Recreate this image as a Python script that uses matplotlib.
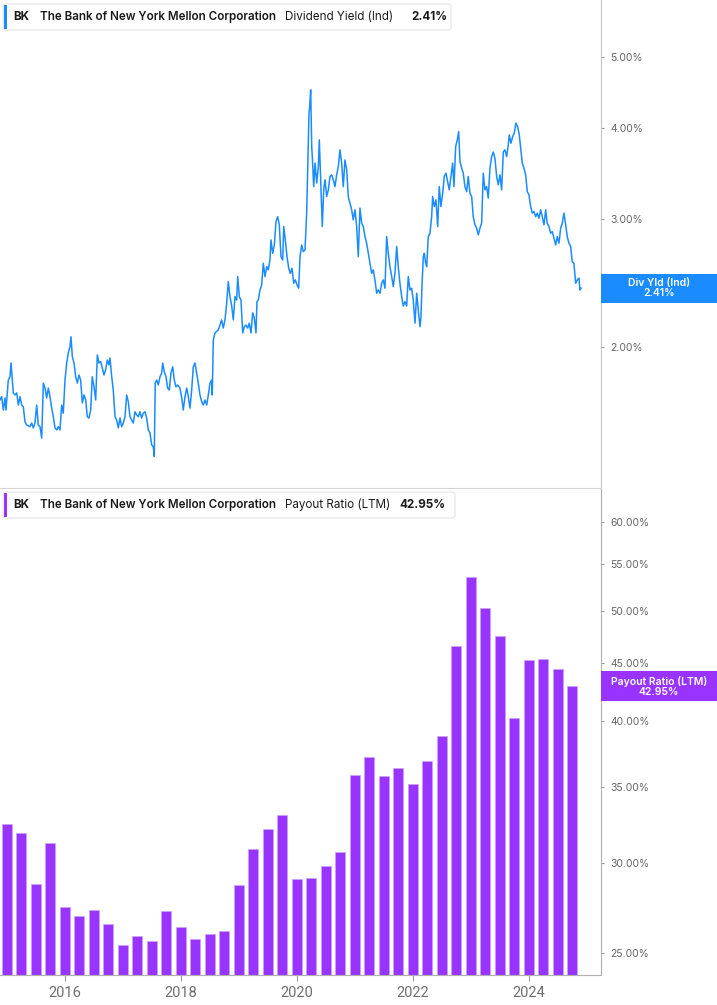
import pandas as pd
import matplotlib
matplotlib.use("Agg")
import matplotlib.pyplot as plt
from matplotlib.patches import Rectangle, FancyBboxPatch
from matplotlib.ticker import FixedLocator, FuncFormatter, NullLocator
from matplotlib.transforms import IdentityTransform

W, H = 717, 1005

# dividend yield (Ind), sampled along the daily series: decimal year, percent
yield_year = [
    2014.884, 2014.913, 2014.941, 2014.970, 2014.987, 2015.027, 2015.056, 2015.074, 2015.096, 2015.113,
    2015.143, 2015.172, 2015.200, 2015.229, 2015.258, 2015.286, 2015.315, 2015.344, 2015.401, 2015.431,
    2015.458, 2015.487, 2015.517, 2015.544, 2015.574, 2015.603, 2015.631, 2015.660, 2015.689, 2015.717,
    2015.746, 2015.775, 2015.803, 2015.832, 2015.862, 2015.889, 2015.918, 2015.948, 2015.975, 2016.005,
    2016.034, 2016.062, 2016.091, 2016.108, 2016.131, 2016.160, 2016.189, 2016.217, 2016.246, 2016.275,
    2016.303, 2016.332, 2016.362, 2016.389, 2016.418, 2016.448, 2016.475, 2016.505, 2016.534, 2016.562,
    2016.591, 2016.620, 2016.648, 2016.677, 2016.706, 2016.734, 2016.763, 2016.781, 2016.810, 2016.837,
    2016.867, 2016.896, 2016.924, 2016.953, 2016.982, 2017.010, 2017.039, 2017.068, 2017.096, 2017.125,
    2017.155, 2017.182, 2017.212, 2017.241, 2017.268, 2017.298, 2017.327, 2017.355, 2017.384, 2017.413,
    2017.441, 2017.470, 2017.499, 2017.527, 2017.544, 2017.561, 2017.586, 2017.613, 2017.643, 2017.672,
    2017.689, 2017.717, 2017.746, 2017.775, 2017.803, 2017.832, 2017.862, 2017.889, 2017.918, 2017.948,
    2017.987, 2018.017, 2018.044, 2018.074, 2018.103, 2018.131, 2018.160, 2018.189, 2018.217, 2018.246,
    2018.275, 2018.303, 2018.332, 2018.362, 2018.389, 2018.418, 2018.448, 2018.476, 2018.505, 2018.534,
    2018.544, 2018.562, 2018.591, 2018.648,
    2018.706, 2018.734, 2018.763, 2018.793, 2018.820, 2018.849, 2018.879, 2018.907, 2018.936, 2018.965,
    2018.983, 2019.010, 2019.039, 2019.069, 2019.096, 2019.125, 2019.155, 2019.182, 2019.212, 2019.241,
    2019.269, 2019.298, 2019.315, 2019.338, 2019.367, 2019.396, 2019.424, 2019.453, 2019.482, 2019.510,
    2019.539, 2019.556, 2019.586, 2019.614, 2019.643, 2019.672, 2019.700, 2019.729, 2019.759, 2019.776,
    2019.804, 2019.833, 2019.862, 2019.890, 2019.919, 2019.948, 2019.976, 2020.005, 2020.034, 2020.057,
    2020.086, 2020.114, 2020.143, 2020.172, 2020.190, 2020.212, 2020.224, 2020.241, 2020.259, 2020.269,
    2020.293, 2020.316, 2020.345, 2020.373, 2020.390, 2020.419, 2020.441, 2020.466, 2020.488, 2020.517,
    2020.545, 2020.574, 2020.603, 2020.631, 2020.660, 2020.689, 2020.717, 2020.746, 2020.775, 2020.803,
    2020.832, 2020.862, 2020.889, 2020.918, 2020.948, 2020.975, 2021.005, 2021.034, 2021.062, 2021.091,
    2021.120, 2021.148, 2021.177, 2021.206, 2021.234, 2021.263, 2021.293, 2021.320, 2021.349, 2021.379,
    2021.406, 2021.436, 2021.465, 2021.493, 2021.522, 2021.551, 2021.579, 2021.608, 2021.638, 2021.665,
    2021.694, 2021.724, 2021.751, 2021.780, 2021.810, 2021.838, 2021.867, 2021.896, 2021.924, 2021.953,
    2021.982, 2022.010, 2022.040, 2022.069, 2022.096, 2022.126, 2022.143, 2022.160, 2022.183, 2022.200,
    2022.224, 2022.241, 2022.269, 2022.298, 2022.327, 2022.344, 2022.372, 2022.401, 2022.431, 2022.458,
    2022.487, 2022.517, 2022.544, 2022.574, 2022.603, 2022.631, 2022.660, 2022.689, 2022.712, 2022.741,
    2022.769, 2022.793, 2022.815, 2022.844, 2022.872, 2022.901, 2022.930, 2022.958, 2022.987, 2023.017,
    2023.044, 2023.073, 2023.103, 2023.131, 2023.160, 2023.189, 2023.217, 2023.246, 2023.275, 2023.303,
    2023.332, 2023.362, 2023.389, 2023.418, 2023.448, 2023.476, 2023.505, 2023.534, 2023.562, 2023.591,
    2023.620, 2023.648, 2023.665, 2023.694, 2023.724, 2023.751, 2023.780, 2023.810, 2023.838, 2023.862,
    2023.889, 2023.918, 2023.948, 2023.976, 2024.005, 2024.034, 2024.062, 2024.091, 2024.120, 2024.148,
    2024.177, 2024.207, 2024.234, 2024.264, 2024.293, 2024.320, 2024.350, 2024.379, 2024.407, 2024.436,
    2024.465, 2024.493, 2024.522, 2024.551, 2024.579, 2024.608, 2024.638, 2024.665, 2024.694, 2024.724,
    2024.751, 2024.780, 2024.810, 2024.838, 2024.867, 2024.884, 2024.902,
]
yield_pct = [
    1.693, 1.711, 1.640, 1.704, 1.640, 1.803, 1.822, 1.903, 1.803, 1.731,
    1.720, 1.731, 1.666, 1.711, 1.666, 1.657, 1.580, 1.564, 1.556, 1.574,
    1.550, 1.574, 1.666, 1.564, 1.556, 1.501, 1.786, 1.758, 1.704, 1.758,
    1.711, 1.650, 1.606, 1.550, 1.540, 1.556, 1.540, 1.666, 1.624, 1.803,
    1.903, 1.964, 2.004, 2.067, 1.941, 1.903, 1.822, 1.786, 1.832, 1.803,
    1.677, 1.720, 1.693, 1.606, 1.599, 1.640, 1.822, 1.765, 1.693, 1.952,
    1.903, 1.911, 1.874, 1.832, 1.862, 1.921, 1.892, 1.933, 1.822, 1.747,
    1.606, 1.589, 1.550, 1.599, 1.556, 1.574, 1.606, 1.720, 1.684, 1.606,
    1.589, 1.574, 1.631, 1.615, 1.606, 1.631, 1.599, 1.624, 1.631, 1.599,
    1.540, 1.526, 1.469, 1.461, 1.416, 1.786, 1.803, 1.775, 1.822, 1.843,
    1.903, 1.852, 1.822, 1.758, 1.747, 1.843, 1.880, 1.803, 1.765, 1.775,
    1.758, 1.704, 1.640, 1.711, 1.758, 1.711, 1.650, 1.747, 1.880, 1.903,
    1.843, 1.786, 1.720, 1.684, 1.666, 1.693, 1.666, 1.720, 1.786, 1.803,
    1.720, 2.047, 2.092, 2.112,
    2.180, 2.125, 2.180, 2.300, 2.461, 2.347, 2.278, 2.180, 2.347, 2.322,
    2.500, 2.347, 2.322, 2.092, 2.134, 2.145, 2.125, 2.158, 2.092, 2.229,
    2.194, 2.092, 2.310, 2.322, 2.397, 2.435, 2.608, 2.500, 2.580, 2.553,
    2.635, 2.807, 2.691, 2.763, 2.975, 3.021, 2.944, 2.662, 2.635, 2.929,
    2.807, 2.662, 2.567, 2.526, 2.567, 2.448, 2.474, 2.435, 2.410, 2.662,
    2.763, 2.705, 2.720, 3.055, 3.540, 4.189, 4.277, 4.510, 3.770, 3.652,
    3.322, 3.578, 3.359, 3.540, 3.850, 3.288, 2.929, 3.288, 3.394, 3.220,
    3.288, 3.430, 3.448, 3.394, 3.322, 3.448, 3.540, 3.731, 3.578, 3.322,
    3.614, 3.503, 3.220, 3.153, 3.087, 2.991, 3.087, 2.929, 2.662, 3.104,
    2.960, 2.929, 2.837, 2.778, 2.691, 2.608, 2.526, 2.553, 2.474, 2.372,
    2.397, 2.372, 2.448, 2.474, 2.410, 2.837, 2.691, 2.580, 2.500, 2.422,
    2.526, 2.749, 2.580, 2.448, 2.347, 2.278, 2.310, 2.278, 2.500, 2.397,
    2.410, 2.322, 2.158, 2.372, 2.250, 2.134, 2.202, 2.422, 2.662, 2.691,
    2.608, 2.580, 2.837, 2.867, 3.021, 3.220, 3.119, 3.186, 2.929, 3.322,
    3.119, 3.254, 3.430, 3.466, 3.377, 3.288, 3.430, 3.578, 3.322, 3.770,
    3.850, 3.953, 3.596, 3.522, 3.466, 3.322, 3.270, 3.430, 3.254, 3.220,
    3.021, 2.944, 2.913, 2.852, 2.913, 2.960, 3.466, 3.288, 3.322, 3.203,
    3.522, 3.652, 3.706, 3.633, 3.430, 3.341, 3.448, 3.288, 3.706, 3.731,
    3.652, 3.790, 3.912, 3.810, 3.891, 3.933, 4.060, 4.016, 3.912, 3.751,
    3.578, 3.522, 3.448, 3.270, 3.237, 3.119, 3.055, 3.071, 3.021, 3.055,
    3.006, 3.087, 3.021, 2.944, 3.087, 2.960, 2.929, 2.867, 2.882, 2.821,
    2.763, 2.837, 2.778, 2.913, 2.960, 3.055, 2.944, 2.837, 2.778, 2.749,
    2.621, 2.608, 2.448, 2.474, 2.488, 2.397, 2.410,
]

# payout ratio (LTM), quarterly
payout_quarters = pd.period_range("2015Q1", "2024Q4", freq="Q")
payout_pct = [
    32.51, 31.92, 28.74, 31.22, 27.42, 26.92, 27.30, 26.50, 25.40, 25.88,
    25.60, 27.21, 26.34, 25.74, 26.00, 26.14, 28.67, 30.86, 32.14, 33.05,
    29.06, 29.10, 29.82, 30.67, 35.88, 37.19, 35.82, 36.37, 35.25, 36.91,
    38.84, 46.64, 53.60, 50.32, 47.60, 40.26, 45.31, 45.37, 44.48, 42.95,
]

year_ticks = [2016, 2018, 2020, 2022, 2024]
yield_ticks = [2, 3, 4, 5]
payout_ticks = [25, 30, 35, 40, 45, 50, 55, 60]

BLUE = "#1a8cff"
PURPLE = "#9933ff"
FONT = ["Inter", "Roboto", "DejaVu Sans"]

plt.rcParams["font.family"] = FONT

fig = plt.figure(figsize=(W / 100, H / 100), dpi=100)
fig.patch.set_facecolor("white")
ax1 = fig.add_axes([0, 1 - 488 / H, 601 / W, 488 / H])
ax2 = fig.add_axes([0, 1 - 974.5 / H, 601 / W, (974.5 - 489) / H])

pct_fmt = FuncFormatter(lambda v, _: f"{v:.2f}%")
for ax in (ax1, ax2):
    ax.set_yscale("log")
    ax.set_xlim(2014.884, 2025.247)
    ax.yaxis.tick_right()
    ax.yaxis.set_minor_locator(NullLocator())
    ax.yaxis.set_major_formatter(pct_fmt)
    ax.tick_params(axis="y", length=2.5, width=0.8, color="#999999",
                   labelcolor="#666666", labelsize=7.5, pad=4)
    ax.spines["top"].set_visible(False)
    ax.spines["left"].set_visible(False)
    ax.spines["right"].set_color("#c4c4c4")
    ax.spines["bottom"].set_color("#d4d4d4")
    ax.set_facecolor("white")

# top: dividend yield line
ax1.plot(yield_year, yield_pct, color=BLUE, lw=1.1)
ax1.set_ylim(1.282, 5.99)
ax1.yaxis.set_major_locator(FixedLocator(yield_ticks))
ax1.tick_params(axis="x", bottom=False, labelbottom=False)

# bottom: payout ratio bars
bar_x = [q.year + (q.quarter - 1) / 4 for q in payout_quarters]
ax2.bar(bar_x, [v - 20 for v in payout_pct], bottom=20, width=0.172,
        color=PURPLE, edgecolor="#c9a3ff", linewidth=0.5)
ax2.set_ylim(23.93, 64.1)
ax2.yaxis.set_major_locator(FixedLocator(payout_ticks))
ax2.spines["bottom"].set_color("#b0b0b0")
ax2.spines["right"].set_color("#b0b0b0")
ax2.set_xticks(year_ticks)
ax2.set_xticklabels([str(y) for y in year_ticks])
ax2.tick_params(axis="x", length=4, width=0.8, color="#999999",
                labelcolor="#6e6e6e", labelsize=10.5, pad=4)
for lbl in ax2.get_xticklabels():
    lbl.set_family(["Liberation Sans Narrow", "Roboto", "DejaVu Sans"])
    lbl.set_fontstretch("condensed")


def header(y_top, right, color, metric, value, value_x):
    box = FancyBboxPatch((3, H - y_top - 26), right - 3, 26,
                         boxstyle="round,pad=0,rounding_size=3",
                         transform=IdentityTransform(), fc="white",
                         ec="#e4e4e4", lw=0.8)
    fig.add_artist(box)
    accent = Rectangle((3.5, H - y_top - 25), 3, 24, transform=IdentityTransform(),
                       fc=color, ec="none")
    fig.add_artist(accent)
    yc = 1 - (y_top + 13) / H
    kw = dict(va="center", ha="left", fontsize=8.4, color="#1a1a1a")
    fig.text(13 / W, yc, "BK", fontweight="bold", **kw)
    fig.text(40 / W, yc, "The Bank of New York Mellon Corporation", fontweight="semibold", **kw)
    fig.text(285 / W, yc, metric, fontweight="normal", **kw)
    fig.text(value_x / W, yc, value, fontweight="bold", **kw)


header(4, 451, BLUE, "Dividend Yield (Ind)", f"{yield_pct[-1]:.2f}%", 411)
header(492, 455, PURPLE, "Payout Ratio (LTM)", f"{payout_pct[-1]:.2f}%", 399)


def value_tag(ax, value, color, name, height):
    y = ax.transData.transform((2020, value))[1]
    fig.add_artist(Rectangle((601, y - height / 2), W - 601, height,
                             transform=IdentityTransform(), fc=color, ec="none"))
    fig.text((601 + W) / 2 / W, y / H, f"{name}\n{value:.2f}%", ha="center",
             va="center", color="white", fontsize=7.5, fontweight="semibold",
             linespacing=1.0)


value_tag(ax1, yield_pct[-1], BLUE, "Div Yld (Ind)", 29)
value_tag(ax2, payout_pct[-1], PURPLE, "Payout Ratio (LTM)", 30)

plt.savefig("out.png", dpi=100)
